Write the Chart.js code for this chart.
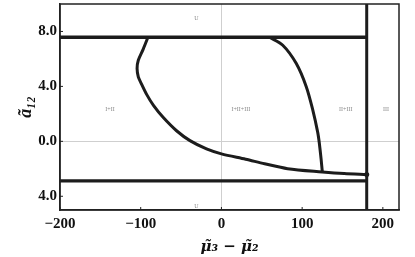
<!DOCTYPE html>
<html>
<head>
<meta charset="utf-8">
<script src="https://cdn.jsdelivr.net/npm/chart.js@4.4.1/dist/chart.umd.min.js"></script>
<style>
  html, body { margin: 0; padding: 0; background: #fff; }
</style>
</head>
<body>
<canvas id="phaseChart" width="415" height="257"></canvas>
<script>
// boundary curves (x = mu3 - mu2, y = a12)
var leftCurve = [
  [-91, 7.58], [-97, 6.7], [-103, 5.9], [-104.5, 5.3], [-103, 4.7], [-100, 4.3],
  [-92.5, 3.4], [-84, 2.6], [-72, 1.73], [-55.6, 0.77], [-39, 0.05], [-18.5, -0.55],
  [0, -0.91], [30, -1.3], [53.5, -1.63], [82, -1.99], [125, -2.23], [152, -2.35], [180, -2.42]
];
var rightCurve = [
  [59.6, 7.58], [76, 7.0], [92.6, 5.68], [105, 4.0], [113, 2.33],
  [119.3, 0.65], [121.4, -0.19], [123.5, -1.3], [125, -2.23]
];
var upperLine = [[-200, 7.58], [180, 7.58]];
var lowerLine = [[-200, -2.88], [180, -2.88]];
var wallLine = [[180, -5], [180, 10]];
var endPoint = [[180, -2.42]];

var xTicks = [-200, -100, 0, 100, 200];
var yTicks = [-4, 0, 4, 8];

var regionNames = ["U", "U", "I+II", "I+II+III", "II+III", "III"];
var regionX = [-31, -31, -138, 24, 154, 204];
var regionY = [8.97, -4.77, 2.35, 2.35, 2.35, 2.35];

function pts(arr) {
  return arr.map(function (p) { return { x: p[0], y: p[1] }; });
}

var ink = '#1c1c1c';

function lineSet(arr, width) {
  return {
    data: pts(arr),
    showLine: true,
    borderColor: ink,
    borderWidth: width,
    pointRadius: 0,
    tension: 0.3,
    fill: false
  };
}

var frameAndLabels = {
  id: 'frameAndLabels',
  afterDraw: function (chart) {
    var c = chart.ctx, a = chart.chartArea;
    var xs = chart.scales.x, ys = chart.scales.y;
    c.save();
    // tick marks inside the frame
    c.strokeStyle = '#222';
    c.lineWidth = 1;
    xTicks.forEach(function (v) {
      var px = xs.getPixelForValue(v);
      c.beginPath(); c.moveTo(px, a.bottom); c.lineTo(px, a.bottom - 3); c.stroke();
    });
    yTicks.forEach(function (v) {
      var py = ys.getPixelForValue(v);
      c.beginPath(); c.moveTo(a.left, py); c.lineTo(a.left + 3, py); c.stroke();
    });
    // frame
    c.lineWidth = 1.5;
    c.strokeRect(a.left, a.top, a.right - a.left, a.bottom - a.top);
    // region labels
    c.fillStyle = '#8a8a8a';
    c.font = '6px "Liberation Serif"';
    c.textAlign = 'center';
    c.textBaseline = 'middle';
    regionNames.forEach(function (t, i) {
      c.fillText(t, xs.getPixelForValue(regionX[i]), ys.getPixelForValue(regionY[i]));
    });
    c.restore();
  }
};

var ctx = document.getElementById('phaseChart').getContext('2d');
var phaseChart = new Chart(ctx, {
  type: 'scatter',
  data: {
    datasets: [
      lineSet(upperLine, 3.3),
      lineSet(lowerLine, 3.3),
      lineSet(wallLine, 3),
      lineSet(leftCurve, 3),
      lineSet(rightCurve, 3),
      {
        data: pts(endPoint),
        pointRadius: 2.5,
        pointBackgroundColor: ink,
        pointBorderWidth: 0
      }
    ]
  },
  plugins: [frameAndLabels],
  options: {
    responsive: false,
    animation: false,
    layout: { padding: { top: -6, right: 16, left: 0, bottom: 0 } },
    plugins: { legend: { display: false }, tooltip: { enabled: false } },
    scales: {
      x: {
        type: 'linear',
        min: -200,
        max: 220,
        afterBuildTicks: function (s) { s.ticks = xTicks.map(function (v) { return { value: v }; }); },
        afterFit: function (s) { s.height = 47; s.paddingLeft = 0; s.paddingRight = 0; },
        grid: {
          drawTicks: false,
          color: function (c) { return c.tick && c.tick.value === 0 ? '#cfcfcf' : 'rgba(0,0,0,0)'; }
        },
        border: { color: '#222', width: 1.5 },
        ticks: {
          padding: 5,
          color: '#111',
          font: { family: '"Liberation Serif"', size: 15, weight: 'bold' },
          callback: function (v) { return v < 0 ? '\u2212' + Math.abs(v) : String(v); }
        },
        title: {
          display: true,
          text: 'μ̃₃ − μ̃₂',
          color: '#111',
          padding: { top: 0, bottom: 1 },
          font: { family: '"DejaVu Serif"', size: 15, weight: 'bold', style: 'italic' }
        }
      },
      y: {
        min: -5,
        max: 10,
        afterBuildTicks: function (s) { s.ticks = yTicks.map(function (v) { return { value: v }; }); },
        afterFit: function (s) { s.width = 60; s.paddingTop = 0; s.paddingBottom = 0; },
        grid: {
          drawTicks: false,
          color: function (c) { return c.tick && c.tick.value === 0 ? '#cfcfcf' : 'rgba(0,0,0,0)'; }
        },
        border: { color: '#222', width: 1.5 },
        ticks: {
          padding: 3,
          color: '#111',
          font: { family: '"Liberation Serif"', size: 15, weight: 'bold' },
          callback: function (v) { return Math.abs(v).toFixed(1); }
        },
        title: {
          display: true,
          text: 'ã₁₂',
          color: '#111',
          padding: { top: 16, bottom: 0 },
          font: { family: '"Liberation Serif"', size: 18, weight: 'bold', style: 'italic' }
        }
      }
    }
  }
});
</script>
</body>
</html>
